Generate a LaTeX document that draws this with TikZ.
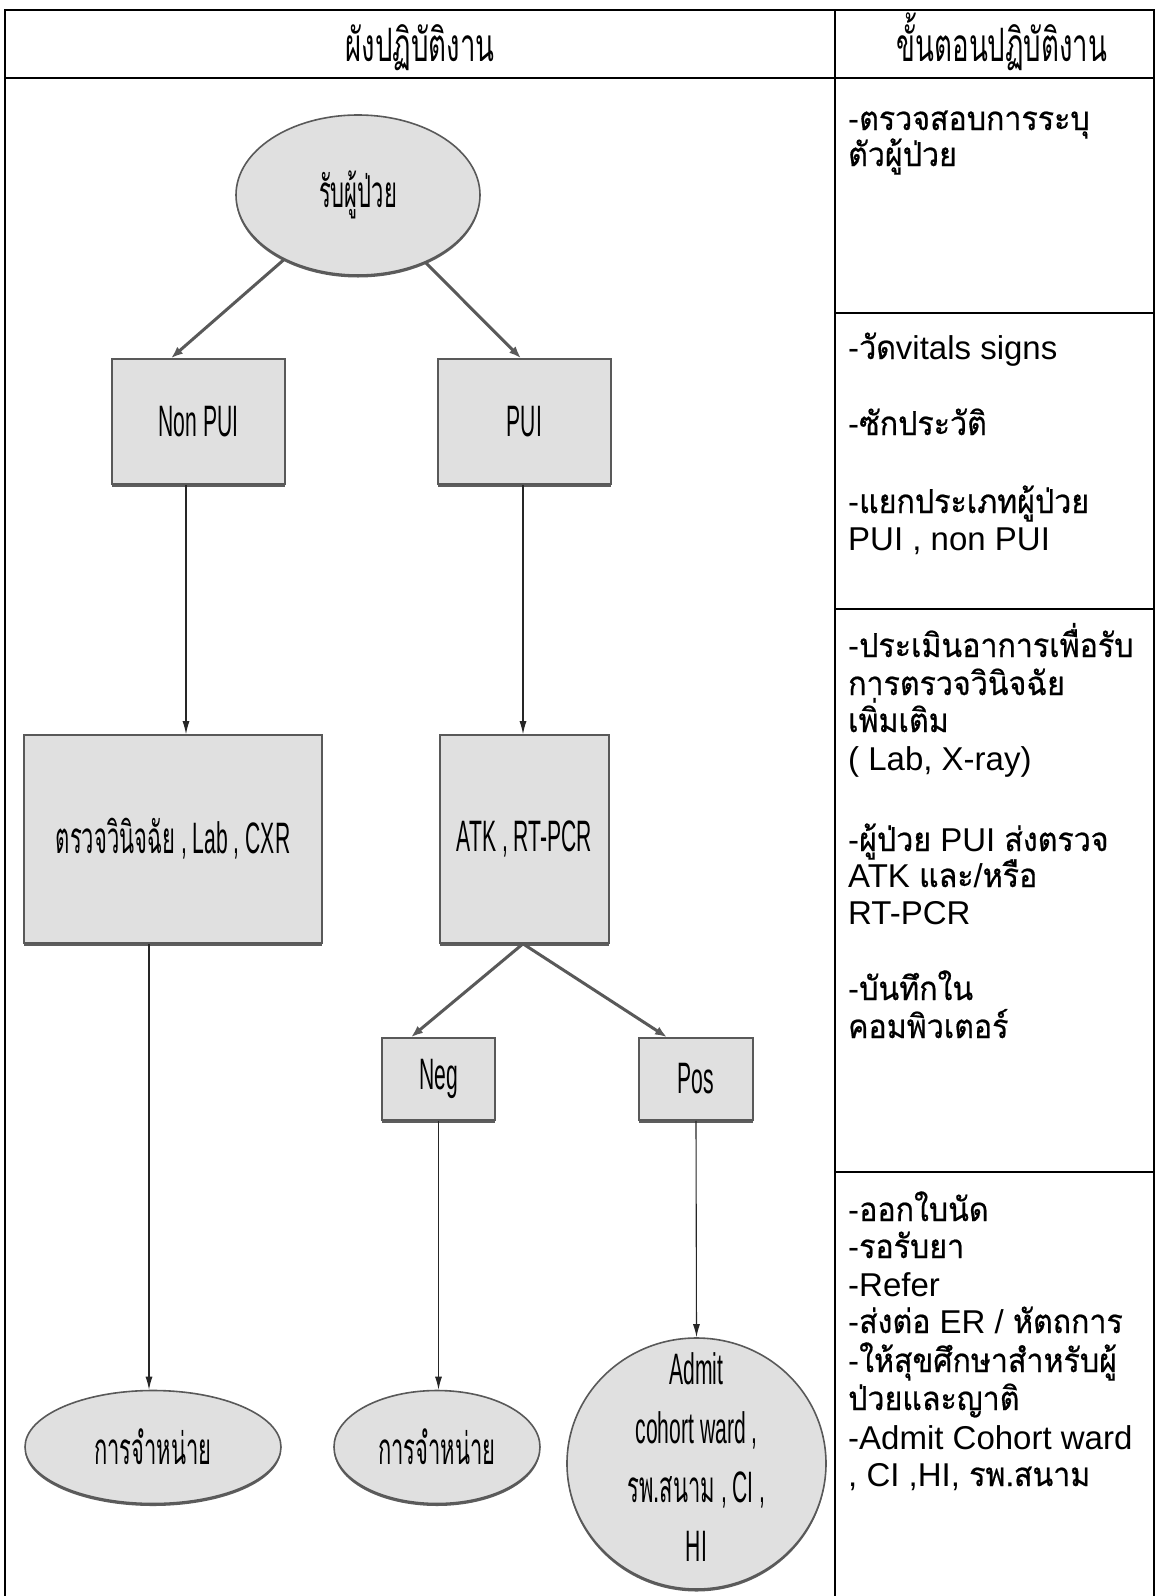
\documentclass[tikz,border=0pt]{standalone}
\usepackage{fontspec}
\setmainfont{Liberation Sans}
\newfontfamily\thai[Script=Thai,FakeStretch=0.92,FakeBold=0.6]{Loma}
\newfontfamily\nlat[FakeStretch=0.48]{Liberation Sans}
\newfontfamily\nthai[Script=Thai,FakeStretch=0.5]{Loma}
\newfontfamily\hthai[Script=Thai,FakeStretch=0.6]{Loma}
\usetikzlibrary{shapes.geometric,arrows.meta,shadows}

\tikzset{
  tablerule/.style={line width=2.2pt, black, line cap=rect},
  shadebox/.style={draw=black!65, line width=1.6pt, fill=black!12, inner sep=0pt,
    drop shadow={shadow xshift=0pt, shadow yshift=-2.5pt, fill=black!70, opacity=0.9},
    font=\nlat\fontsize{44}{59}\selectfont, align=center},
  proc/.style={shadebox, rectangle},
  term/.style={shadebox, ellipse},
  rtext/.style={anchor=base west, inner sep=0pt, font=\fontsize{33}{38}\selectfont},
  head/.style={anchor=base, inner sep=0pt, font=\hthai\fontsize{46}{50}\selectfont},
  flow/.style={draw=black!85, line width=1.1pt, -{Latex[length=13pt,width=7pt]}},
  fork/.style={draw=black!65, line width=3pt, -{Latex[length=12pt,width=9pt]}},
}

\begin{document}
\begin{tikzpicture}[x=1pt,y=-1pt]
\useasboundingbox (0,0) rectangle (1156,1596);
\fill[white] (0,0) rectangle (1156,1596);

% table frame
\draw[tablerule] (5,1596) -- (5,10) -- (1154,10) -- (1154,1596);
\draw[tablerule] (5,78) -- (1154,78);
\draw[tablerule] (835,10) -- (835,1596);
\draw[tablerule] (835,313) -- (1154,313);
\draw[tablerule] (835,609) -- (1154,609);
\draw[tablerule] (835,1172) -- (1154,1172);

% column heads
\node[head] (h1) at (420,61) {ผังปฏิบัติงาน};
\node[head] (h2) at (1002,61) {ขั้นตอนปฏิบัติงาน};

% flowchart
\node[term, minimum width=244pt, minimum height=160pt] (start) at (358,195) {{\nthai รับผู้ป่วย}};
\node[proc, minimum width=173pt, minimum height=125pt] (nonpui) at (198.5,421.5) {Non PUI};
\node[proc, minimum width=173pt, minimum height=125pt] (pui) at (524.5,421.5) {PUI};
\node[proc, minimum width=298pt, minimum height=208pt] (diag) at (173,839) {{\nthai ตรวจวินิจฉัย} , Lab , CXR};
\node[proc, minimum width=169pt, minimum height=208pt] (atk) at (524.5,839) {ATK , RT-PCR};
\node[proc, minimum width=113pt, minimum height=82pt] (neg) at (438.5,1079) {Neg};
\node[proc, minimum width=114pt, minimum height=82pt] (pos) at (696,1079) {Pos};
\node[term, minimum width=256pt, minimum height=113pt] (dis1) at (153,1447) {{\nthai การจำหน่าย}};
\node[term, minimum width=206pt, minimum height=113pt] (dis2) at (437,1447) {{\nthai การจำหน่าย}};
\node[term, minimum width=259pt, minimum height=251pt] (admit) at (696.5,1463.5)
  {\raisebox{-4pt}[0pt][0pt]{\begin{tabular}{@{}c@{}}Admit\\cohort ward ,\\{\nthai รพ.สนาม} , CI ,\\HI\end{tabular}}};

% connectors
\draw[fork] (start) -- ([xshift=-27.5pt]nonpui.north);
\draw[fork] (start) -- ([xshift=-3.5pt]pui.north);
\draw[flow] ([xshift=-12.5pt]nonpui.south) -- ([xshift=-12.5pt]nonpui.south |- diag.north);
\draw[flow] ([xshift=-1.5pt]pui.south) -- ([xshift=-1.5pt]pui.south |- atk.north);
\draw[fork] ([xshift=-1.5pt]atk.south) -- ([xshift=-27.5pt]neg.north);
\draw[fork] ([xshift=-1.5pt]atk.south) -- ([xshift=-29pt]pos.north);
\draw[flow] ([xshift=-24pt]diag.south) -- ([xshift=-24pt]diag.south |- dis1.north);
\draw[flow] (neg.south) -- (neg.south |- dis2.north);
\draw[flow] (pos.south) -- (admit.north);

% procedure steps
\node[rtext] (s1) at (848,130) {-{\thai ตรวจสอบการระบุ}};
\node[rtext] (s2) at (848,166) {{\thai ตัวผู้ป่วย}};
\node[rtext] (s3) at (848,359) {-{\thai วัด}vitals signs};
\node[rtext] (s4) at (848,435) {-{\thai ซักประวัติ}};
\node[rtext] (s5) at (848,513) {-{\thai แยกประเภทผู้ป่วย}};
\node[rtext] (s6) at (848,550) {PUI , non PUI};
\node[rtext] (s7) at (848,657) {-{\thai ประเมินอาการเพื่อรับ}};
\node[rtext] (s8) at (848,695) {{\thai การตรวจวินิจฉัย}};
\node[rtext] (s9) at (848,732) {{\thai เพิ่มเติม}};
\node[rtext] (s10) at (848,770) {( Lab, X-ray)};
\node[rtext] (s11) at (848,851) {-{\thai ผู้ป่วย} PUI {\thai ส่งตรวจ}};
\node[rtext] (s12) at (848,887) {ATK {\thai และ}/{\thai หรือ}};
\node[rtext] (s13) at (848,924) {RT-PCR};
\node[rtext] (s14) at (848,1000) {-{\thai บันทึกใน}};
\node[rtext] (s15) at (848,1038) {{\thai คอมพิวเตอร์}};
\node[rtext] (s16) at (848,1221) {-{\thai ออกใบนัด}};
\node[rtext] (s17) at (848,1258) {-{\thai รอรับยา}};
\node[rtext] (s18) at (848,1296) {-Refer};
\node[rtext] (s19) at (848,1333) {-{\thai ส่งต่อ} ER / {\thai หัตถการ}};
\node[rtext] (s20) at (848,1372) {-{\thai ให้สุขศึกษาสำหรับผู้}};
\node[rtext] (s21) at (848,1410) {{\thai ป่วยและญาติ}};
\node[rtext] (s22) at (848,1449) {-Admit Cohort ward};
\node[rtext] (s23) at (848,1486) {, CI ,HI, {\thai รพ.สนาม}};
\end{tikzpicture}
\end{document}
